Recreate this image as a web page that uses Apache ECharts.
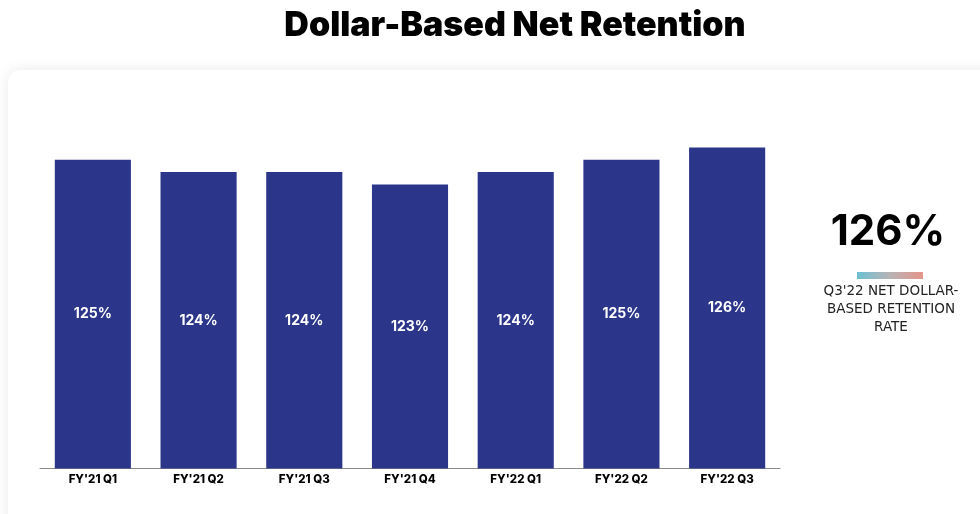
<!DOCTYPE html>
<html>
<head>
<meta charset="utf-8">
<script src="https://cdn.jsdelivr.net/npm/echarts@6/dist/echarts.min.js"></script>
<style>html,body{margin:0;padding:0;background:#fff;}#c{width:980px;height:514px;}</style>
</head>
<body>
<div id="c"></div>
<script>
const categories = ["FY'21 Q1", "FY'21 Q2", "FY'21 Q3", "FY'21 Q4", "FY'22 Q1", "FY'22 Q2", "FY'22 Q3"];
const retention = [125, 124, 124, 123, 124, 125, 126];
const titleText = 'Dollar-Based Net Retention';
const calloutValue = '126%';
const calloutLabel = "Q3'22 NET DOLLAR-\nBASED RETENTION\nRATE";

const chart = echarts.init(document.getElementById('c'));
chart.setOption({
  animation: false,
  backgroundColor: '#ffffff',
  title: {
    text: titleText,
    left: 510, top: 4, textAlign: 'center',
    textStyle: { fontFamily: 'Inter', fontWeight: 900, fontSize: 34, color: '#000' }
  },
  graphic: [
    { type: 'rect', z: -10, shape: { x: 8, y: 70, width: 1000, height: 500, r: 12 },
      style: { fill: '#fff', shadowBlur: 14, shadowColor: 'rgba(0,0,0,0.09)', shadowOffsetY: 0 } },
    { type: 'text', x: 888, y: 232, style: { text: calloutValue, fill: '#000', font: '700 42px Inter', textAlign: 'center', textVerticalAlign: 'middle' } },
    { type: 'rect', shape: { x: 857, y: 272, width: 66, height: 7 },
      style: { fill: new echarts.graphic.LinearGradient(0, 0, 1, 0, [
        { offset: 0, color: '#6cc0d2' }, { offset: 0.5, color: '#b8b3b6' }, { offset: 1, color: '#e5958a' }]) } },
    { type: 'text', x: 891, y: 282, style: { text: calloutLabel, fill: '#222', font: '400 13.5px "DejaVu Sans"', textAlign: 'center', lineHeight: 18 } }
  ],
  grid: { left: 40, right: 200, top: 98, bottom: 45.5 },
  xAxis: {
    type: 'category', data: categories,
    axisLine: { lineStyle: { color: '#8a8a8a', width: 1 } },
    axisTick: { show: false },
    axisLabel: { color: '#000', fontFamily: 'Inter', fontWeight: 800, fontSize: 11.5, margin: 5 }
  },
  yAxis: { type: 'value', min: 100, max: 130, show: false, splitLine: { show: false } },
  series: [{
    type: 'bar', data: retention, barCategoryGap: '28%',
    itemStyle: { color: '#2b3589' },
    label: { show: true, position: 'inside', formatter: '{c}%', color: '#fff', fontFamily: 'Inter', fontWeight: 700, fontSize: 14 }
  }]
});
</script>
</body>
</html>
